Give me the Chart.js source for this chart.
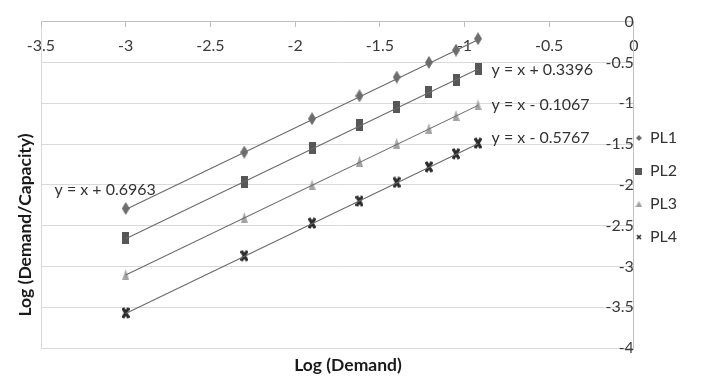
<!DOCTYPE html>
<html>
<head>
<meta charset="utf-8">
<script src="https://cdn.jsdelivr.net/npm/chart.js@4.4.1/dist/chart.umd.min.js"></script>
<style>
html, body { margin: 0; padding: 0; background: #fff; }
#wrap { width: 706px; height: 380px; }
</style>
</head>
<body>
<div id="wrap"><canvas id="chart" width="706" height="380"></canvas></div>
<script>
// Valores
const seriesNames = ['PL1', 'PL2', 'PL3', 'PL4'];
const logDemand = [-3, -2.3, -1.9, -1.62, -1.4, -1.21, -1.05, -0.92];
const pl1 = [-2.29, -1.6, -1.19, -0.91, -0.68, -0.5, -0.35, -0.21];
const pl2 = [-2.65, -1.96, -1.55, -1.27, -1.05, -0.86, -0.71, -0.58];
const pl3 = [-3.1, -2.4, -2.0, -1.71, -1.49, -1.31, -1.15, -1.02];
const pl4 = [-3.57, -2.87, -2.47, -2.2, -1.97, -1.78, -1.62, -1.49];
const intercepts = [0.6963, 0.3396, -0.1067, -0.5767];
const equationLabels = ['y = x + 0.6963', 'y = x + 0.3396', 'y = x - 0.1067', 'y = x - 0.5767'];
const xTicks = [-3.5, -3, -2.5, -2, -1.5, -1, -0.5, 0];
const yTicks = [0, -0.5, -1, -1.5, -2, -2.5, -3, -3.5, -4];

const seriesValues = [pl1, pl2, pl3, pl4];
const markerColors = ['#6e6e6e', '#575757', '#a3a3a3', '#2b2b2b'];
const markerShapes = ['diamond', 'square', 'triangle', 'cross'];

// posição dos rótulos das equações (em unidades do gráfico)
const labelSpots = [
    { x: -3.42, y: -2.06 },
    { x: -0.84, y: -0.59 },
    { x: -0.84, y: -1.02 },
    { x: -0.84, y: -1.43 }
];

const FONT = 'Lato, "Open Sans", sans-serif';

// Desenha um marcador num canvas pequeno (usado como pointStyle)
function makeMarker(shape, w, h, color, lw) {
    const c = document.createElement('canvas');
    c.width = w;
    c.height = h;
    const g = c.getContext('2d');
    g.fillStyle = color;
    g.strokeStyle = color;
    g.beginPath();
    if (shape === 'diamond') {
        g.moveTo(w / 2, 0);
        g.lineTo(w, h / 2);
        g.lineTo(w / 2, h);
        g.lineTo(0, h / 2);
        g.closePath();
        g.fill();
    } else if (shape === 'square') {
        g.fillRect(0, 0, w, h);
    } else if (shape === 'triangle') {
        g.moveTo(w / 2, 0);
        g.lineTo(w, h);
        g.lineTo(0, h);
        g.closePath();
        g.fill();
    } else {
        g.lineWidth = lw || 2.5;
        g.moveTo(1, 1);
        g.lineTo(w - 1, h - 1);
        g.moveTo(w - 1, 1);
        g.lineTo(1, h - 1);
        g.stroke();
    }
    return c;
}

const bigSizes = [[8, 13], [7, 12], [7, 11], [8, 12]];
const smallSizes = [[6, 6], [7, 7], [7, 6], [6, 6]];
const plotMarkers = markerShapes.map((s, i) => makeMarker(s, bigSizes[i][0], bigSizes[i][1], markerColors[i], 3.2));
const legendMarkers = markerShapes.map((s, i) => makeMarker(s, smallSizes[i][0], smallSizes[i][1], markerColors[i], 1.6));

const datasets = [];

// linhas de tendência (y = x + b) entre o primeiro e o último ponto
const xFirst = logDemand[0];
const xLast = logDemand[logDemand.length - 1];
intercepts.forEach((b, i) => {
    datasets.push({
        label: 'trend ' + seriesNames[i],
        data: [{ x: xFirst, y: xFirst + b }, { x: xLast, y: xLast + b }],
        showLine: true,
        borderColor: '#6a6a6a',
        borderWidth: 1.1,
        pointRadius: 0,
        order: 0
    });
});

seriesNames.forEach((name, i) => {
    datasets.push({
        label: name,
        data: logDemand.map((x, k) => ({ x: x, y: seriesValues[i][k] })),
        pointStyle: plotMarkers[i],
        pointRadius: 6,
        backgroundColor: markerColors[i],
        borderColor: markerColors[i],
        order: 1
    });
});

// Títulos dos eixos e equações
const textPlugin = {
    id: 'textos',
    afterDraw(chart) {
        const ctx = chart.ctx;
        const xs = chart.scales.x;
        const ys = chart.scales.y;
        ctx.save();
        ctx.fillStyle = '#333';
        ctx.font = '16px ' + FONT;
        ctx.textAlign = 'left';
        ctx.textBaseline = 'middle';
        equationLabels.forEach((t, i) => {
            ctx.fillText(t, xs.getPixelForValue(labelSpots[i].x), ys.getPixelForValue(labelSpots[i].y));
        });

        ctx.fillStyle = '#1a1a1a';
        ctx.font = 'bold 17.5px ' + FONT;
        ctx.textAlign = 'center';
        ctx.fillText('Log (Demand)', 348, 365);

        ctx.translate(25, 225);
        ctx.rotate(-Math.PI / 2);
        ctx.fillText('Log (Demand/Capacity)', 0, 0);
        ctx.restore();
    }
};

new Chart(document.getElementById('chart'), {
    type: 'scatter',
    data: { datasets: datasets },
    options: {
        responsive: false,
        animation: false,
        layout: { padding: { left: 41, top: 10, bottom: 32, right: 19 } },
        scales: {
            x: {
                type: 'linear',
                position: { y: 0 },
                min: -3.5,
                max: 0,
                afterBuildTicks: (scale) => { scale.ticks = xTicks.map(v => ({ value: v })); },
                afterFit: (scale) => { scale.height = 0; },
                ticks: {
                    padding: 10,
                    color: '#3a3a3a',
                    font: { family: FONT, size: 16 },
                    callback: (v) => String(v)
                },
                grid: {
                    color: (c) => (c.tick && c.tick.value === -3.5) ? '#d9d9d9' : 'rgba(0,0,0,0)',
                    tickColor: '#bfbfbf',
                    tickLength: 5
                },
                border: { color: '#bfbfbf' }
            },
            y: {
                type: 'linear',
                position: { x: 0 },
                min: -4,
                max: 0,
                afterBuildTicks: (scale) => { scale.ticks = yTicks.map(v => ({ value: v })); },
                afterFit: (scale) => { scale.width = 0; },
                ticks: {
                    padding: 12,
                    color: '#3a3a3a',
                    font: { family: FONT, size: 16 },
                    callback: (v) => String(v)
                },
                grid: {
                    color: '#d9d9d9',
                    tickColor: '#bfbfbf',
                    tickLength: 5
                },
                border: { color: '#bfbfbf' }
            }
        },
        plugins: {
            tooltip: { enabled: false },
            legend: {
                position: 'right',
                align: 'start',
                title: { display: true, text: '', font: { size: 12, lineHeight: 1 }, padding: { top: 106, bottom: 0 } },
                labels: {
                    usePointStyle: true,
                    boxWidth: 6,
                    boxHeight: 6,
                    padding: 2,
                    font: { family: FONT, size: 16, lineHeight: 1.94 },
                    color: '#333',
                    generateLabels: () => seriesNames.map((name, i) => ({
                        text: [name],
                        pointStyle: legendMarkers[i],
                        fillStyle: markerColors[i],
                        strokeStyle: markerColors[i],
                        fontColor: '#333',
                        lineWidth: 0,
                        hidden: false,
                        datasetIndex: i + 4
                    }))
                }
            }
        }
    },
    plugins: [textPlugin]
});
</script>
</body>
</html>
